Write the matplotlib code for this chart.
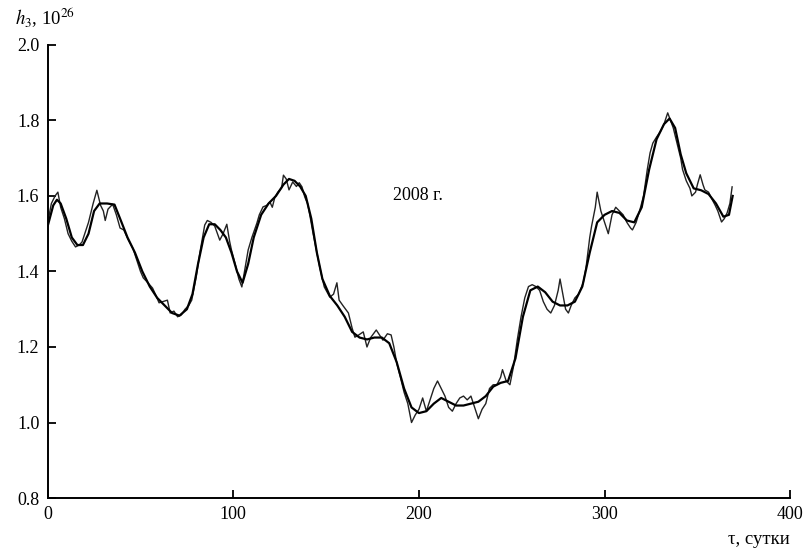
import numpy as np
import matplotlib
matplotlib.use('Agg')
from matplotlib import pyplot as plt

# daily values h3 (units of 1e26), 2008
raw_days = [0, 2, 4, 5.5, 7, 9, 11, 13, 15, 17, 18.5, 20, 22, 24.5, 26.5, 28.5, 30, 31,
            32.5, 35, 37, 39, 41, 43.5, 46, 48, 50, 51.5, 54, 56.5, 58, 60, 62, 64.5,
            66, 68, 70, 72, 74, 76, 77.6, 79, 80, 82, 84.6, 86, 88, 90, 92.7, 94.5,
            96.5, 98, 99, 101, 103, 104.6, 106, 108, 110, 112.7, 114, 116, 118, 119.7,
            121, 122.4, 124, 126, 127, 128.5, 130, 132, 134, 135.5, 137, 138.5, 140,
            141, 143, 144, 146.6, 149, 152, 154, 155.8, 157, 159, 162, 164, 165.5, 167,
            170, 172, 174, 177, 179, 180.6, 183, 185, 186.5, 188, 190, 192, 194, 196,
            198, 200, 202, 204, 206, 208, 210, 212, 214, 216, 218, 220, 222, 224, 226,
            228, 230, 232, 234, 236, 238, 240, 242, 244, 245, 247, 249, 251, 253, 255,
            257, 259, 261, 263, 265, 267, 269, 271, 273, 275, 276, 277.5, 279, 280.5,
            282, 284, 286, 288.5, 290, 292, 293, 295, 296, 298, 300, 302, 304, 306, 308,
            310, 312, 314, 315, 317, 319, 321, 323, 324.5, 326, 328, 330, 332, 334,
            335.5, 337, 339, 341, 342, 344, 346, 347, 349, 350, 351.5, 353, 354, 356,
            358, 359.5, 361, 363, 364.5, 366, 367.5, 368.7]
raw_h3 = [1.53, 1.58, 1.60, 1.61, 1.57, 1.54, 1.50, 1.48, 1.465, 1.47, 1.478, 1.50, 1.53,
          1.58, 1.615, 1.575, 1.56, 1.535, 1.565, 1.578, 1.55, 1.515, 1.51, 1.483, 1.46,
          1.43, 1.40, 1.383, 1.37, 1.356, 1.34, 1.317, 1.32, 1.324, 1.29, 1.295, 1.28,
          1.285, 1.30, 1.31, 1.324, 1.36, 1.385, 1.45, 1.523, 1.535, 1.53, 1.52, 1.483,
          1.50, 1.525, 1.48, 1.457, 1.42, 1.38, 1.359, 1.40, 1.457, 1.49, 1.528, 1.55,
          1.571, 1.575, 1.584, 1.57, 1.597, 1.61, 1.621, 1.655, 1.645, 1.616, 1.637,
          1.625, 1.635, 1.624, 1.597, 1.58, 1.555, 1.50, 1.475, 1.41, 1.359, 1.332, 1.34,
          1.37, 1.324, 1.31, 1.29, 1.25, 1.226, 1.23, 1.24, 1.20, 1.225, 1.245, 1.23,
          1.218, 1.235, 1.232, 1.20, 1.158, 1.12, 1.08, 1.05, 1.00, 1.02, 1.035, 1.065,
          1.03, 1.06, 1.09, 1.11, 1.09, 1.07, 1.04, 1.03, 1.05, 1.065, 1.07, 1.06, 1.07,
          1.04, 1.01, 1.035, 1.05, 1.09, 1.10, 1.10, 1.12, 1.14, 1.11, 1.10, 1.15, 1.22,
          1.28, 1.33, 1.36, 1.365, 1.36, 1.35, 1.32, 1.30, 1.29, 1.31, 1.35, 1.38, 1.34,
          1.30, 1.29, 1.31, 1.33, 1.34, 1.37, 1.41, 1.49, 1.52, 1.57, 1.61, 1.56, 1.53,
          1.50, 1.55, 1.57, 1.56, 1.55, 1.53, 1.515, 1.51, 1.53, 1.563, 1.60, 1.67,
          1.714, 1.74, 1.756, 1.77, 1.79, 1.82, 1.80, 1.78, 1.74, 1.70, 1.67, 1.64, 1.62,
          1.60, 1.61, 1.63, 1.656, 1.63, 1.616, 1.61, 1.59, 1.576, 1.56, 1.531, 1.54,
          1.555, 1.58, 1.624]

# smoothed curve
smooth_days = [0, 3, 5, 7, 10, 13, 16, 19, 22, 25, 28, 32, 36, 39, 43, 47, 51, 55, 59, 63,
               67, 71, 75, 78, 81, 84, 87, 90, 93, 96, 99, 102, 105, 108, 111, 115, 119,
               123, 127, 130, 133, 136, 139, 142, 145, 148, 152, 156, 160, 164, 168, 172,
               176, 180, 184, 188, 192, 196, 200, 204, 208, 212, 216, 220, 224, 228, 232,
               236, 240, 244, 248, 252, 256, 260, 264, 268, 272, 276, 280, 284, 288, 292,
               296, 300, 304, 308, 312, 316, 320, 324, 328, 332, 335, 338, 341, 344, 348,
               352, 356, 360, 364, 367, 369]
smooth_h3 = [1.52, 1.575, 1.59, 1.58, 1.54, 1.49, 1.47, 1.47, 1.50, 1.56, 1.58, 1.58,
             1.577, 1.54, 1.49, 1.45, 1.40, 1.36, 1.33, 1.31, 1.29, 1.283, 1.30, 1.34,
             1.42, 1.49, 1.525, 1.525, 1.51, 1.49, 1.45, 1.40, 1.37, 1.42, 1.49, 1.55,
             1.58, 1.60, 1.63, 1.645, 1.64, 1.625, 1.60, 1.54, 1.45, 1.38, 1.335, 1.31,
             1.28, 1.24, 1.225, 1.22, 1.225, 1.225, 1.21, 1.16, 1.09, 1.04, 1.025, 1.03,
             1.05, 1.065, 1.055, 1.045, 1.045, 1.05, 1.055, 1.07, 1.095, 1.105, 1.11,
             1.17, 1.28, 1.35, 1.36, 1.345, 1.32, 1.31, 1.31, 1.32, 1.36, 1.45, 1.53,
             1.55, 1.56, 1.555, 1.535, 1.53, 1.57, 1.67, 1.75, 1.79, 1.805, 1.78, 1.71,
             1.66, 1.62, 1.615, 1.605, 1.58, 1.545, 1.55, 1.60]

x_ticks = [0, 100, 200, 300, 400]
y_ticks = [0.8, 1.0, 1.2, 1.4, 1.6, 1.8, 2.0]

plt.rcParams['font.family'] = ['Liberation Serif', 'DejaVu Serif']
plt.rcParams['mathtext.fontset'] = 'stix'

fig = plt.figure(figsize=(8.08, 5.54), dpi=100)
ax = fig.add_axes([0.059, 0.101, 0.919, 0.818])

ax.plot(raw_days, raw_h3, color='#222222', lw=1.0)
ax.plot(smooth_days, smooth_h3, color='black', lw=1.6)

ax.set_xlim(0, 400)
ax.set_ylim(0.8, 2.0)
ax.set_xticks(x_ticks)
ax.set_yticks(y_ticks)
ax.set_yticklabels(['%.1f' % v for v in y_ticks])

for s in ['top', 'right']:
    ax.spines[s].set_visible(False)
for s in ['left', 'bottom']:
    ax.spines[s].set_linewidth(1.4)
ax.tick_params(direction='in', length=6, width=1.3, labelsize=13, pad=6)

ax.text(186, 1.6, u'2008 г.', fontsize=13, va='center', ha='left')

fig.text(15 / 808, 1 - 18 / 554, u'$h_3$, 10$^{26}$', fontsize=13.5, va='center', ha='left')
fig.text(790 / 808, 1 - 540 / 554, u'τ, сутки', fontsize=13.5, va='center', ha='right')

plt.savefig('out.png', dpi=100)
